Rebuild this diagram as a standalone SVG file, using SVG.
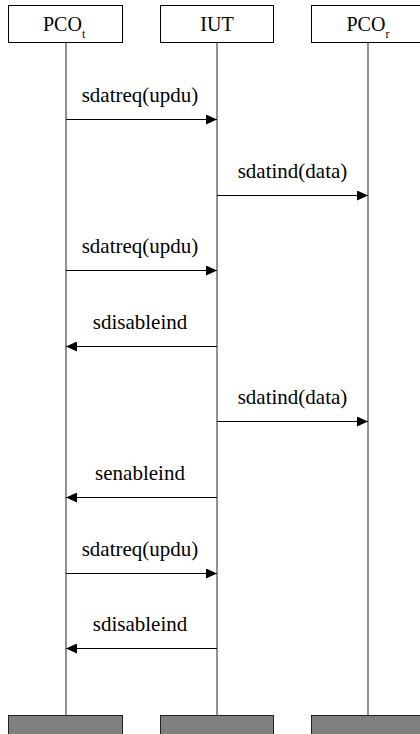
<svg xmlns="http://www.w3.org/2000/svg" width="420" height="734" viewBox="0 0 420 734">
<defs>
<marker id="ah" markerWidth="11" markerHeight="10" refX="11" refY="5" orient="auto" markerUnits="userSpaceOnUse"><path d="M0,0 L11,5 L0,10 Z" fill="#000"/></marker>
<style>
.hd{fill:#fff;stroke:#000;stroke-width:1}
.ft{fill:#808080;stroke:#222;stroke-width:1}
.ll{stroke:#555;stroke-width:1.3;fill:none}
.msg{stroke:#000;stroke-width:1;fill:none;marker-end:url(#ah)}
text{font-family:'Liberation Serif','DejaVu Serif',serif;fill:#000}
.ht{font-size:20px}
.ml{font-size:21px;text-anchor:middle}
</style>
</defs>
<g id="PCOt">
<rect class="hd" x="8.5" y="5.5" width="114" height="37"/>
<text class="ht" x="43" y="30.5" font-family="Liberation Serif, serif">PCO<tspan font-size="12" dy="7">t</tspan></text>
<rect class="ft" x="8.5" y="715.5" width="114" height="20"/>
</g>
<g id="IUT">
<rect class="hd" x="160.5" y="5.5" width="113" height="37"/>
<text class="ht" x="217" y="30.5" font-size="21" text-anchor="middle" font-family="Liberation Serif, serif">IUT</text>
<rect class="ft" x="160.5" y="715.5" width="113" height="20"/>
</g>
<g id="PCOr">
<rect class="hd" x="311.5" y="5.5" width="113" height="37"/>
<text class="ht" x="346.5" y="30.5" font-family="Liberation Serif, serif">PCO<tspan font-size="12" dy="7">r</tspan></text>
<rect class="ft" x="311.5" y="715.5" width="113" height="20"/>
</g>
<g id="connectors" font-family="Liberation Serif, serif">
<line class="ll" x1="66" y1="42.5" x2="66" y2="715.5"/>
<line class="ll" x1="217" y1="42.5" x2="217" y2="715.5"/>
<line class="ll" x1="368" y1="42.5" x2="368" y2="715.5" stroke="#000"/>
<line class="msg" x1="66" y1="119.5" x2="217" y2="119.5"/>
<text class="ml" x="140" y="102">sdatreq(updu)</text>
<line class="msg" x1="217" y1="195.5" x2="368" y2="195.5"/>
<text class="ml" x="292.5" y="178">sdatind(data)</text>
<line class="msg" x1="66" y1="270.5" x2="217" y2="270.5"/>
<text class="ml" x="140" y="253">sdatreq(updu)</text>
<line class="msg" x1="217" y1="346.5" x2="66" y2="346.5"/>
<text class="ml" x="140" y="329">sdisableind</text>
<line class="msg" x1="217" y1="421.5" x2="368" y2="421.5"/>
<text class="ml" x="292.5" y="404">sdatind(data)</text>
<line class="msg" x1="217" y1="497.5" x2="66" y2="497.5"/>
<text class="ml" x="140" y="480">senableind</text>
<line class="msg" x1="66" y1="573.5" x2="217" y2="573.5"/>
<text class="ml" x="140" y="555.5">sdatreq(updu)</text>
<line class="msg" x1="217" y1="648.5" x2="66" y2="648.5"/>
<text class="ml" x="140" y="631">sdisableind</text>
</g>
</svg>
